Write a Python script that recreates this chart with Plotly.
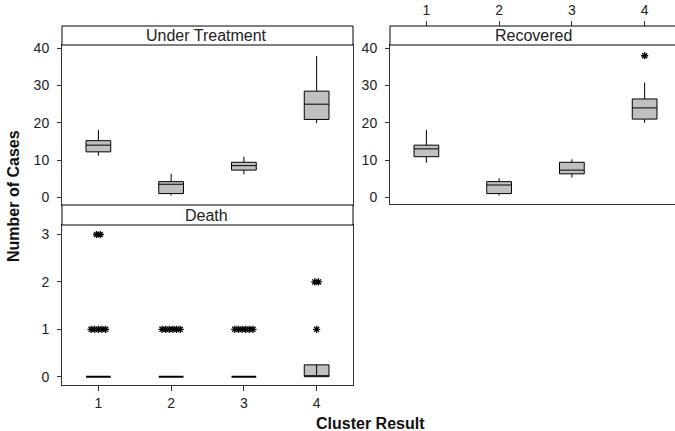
import plotly.graph_objects as go

W, H = 675, 431

clusters = [1, 2, 3, 4]
tick_labels = ["1", "2", "3", "4"]

# Under Treatment box statistics (per cluster)
ut_low = [11.2, 0.5, 6.2, 19.9]
ut_q1 = [12.2, 1.0, 7.3, 20.9]
ut_med = [14.0, 3.5, 8.5, 25.0]
ut_q3 = [15.2, 4.2, 9.4, 28.5]
ut_high = [18.1, 6.3, 10.9, 37.9]

# Recovered box statistics
rec_low = [9.3, 0.5, 5.3, 20.0]
rec_q1 = [10.9, 1.0, 6.3, 21.0]
rec_med = [13.0, 3.3, 7.3, 24.0]
rec_q3 = [14.0, 4.2, 9.4, 26.4]
rec_high = [18.1, 5.1, 10.2, 30.8]
rec_outliers = [[], [], [], [38]]

# Death box statistics
death_low = [0, 0, 0, 0]
death_q1 = [0, 0, 0, 0]
death_med = [0, 0, 0, 0]
death_q3 = [0, 0, 0, 0.25]
death_high = [0, 0, 0, 0.25]
death_outliers = [[1, 1, 1, 1, 1, 3, 3], [1, 1, 1, 1, 1, 1], [1, 1, 1, 1, 1, 1], [1, 2, 2]]

FONT = "Arial, Liberation Sans, sans-serif"
BOX_FILL = "#c0c0c0"
LINE = "#333333"


def fx(p):
    return p / W


def fy(p):
    return 1 - p / H


fig = go.Figure()


def add_panel(xa, ya, low, q1, med, q3, high, outliers):
    for i, c in enumerate(clusters):
        flat = q1[i] == q3[i]
        fig.add_trace(go.Box(
            x=[c], q1=[q1[i]], median=[med[i]], q3=[q3[i]],
            lowerfence=[low[i]], upperfence=[high[i]],
            width=0.34, fillcolor=BOX_FILL if not flat else "black",
            line=dict(color="black", width=2 if flat else 1),
            boxpoints=False, whiskerwidth=0, showlegend=False,
            xaxis=xa, yaxis=ya, hoverinfo="skip",
        ))
        # count duplicates and spread them sideways
        vals = outliers[i]
        groups = {}
        for v in vals:
            groups[v] = groups.get(v, 0) + 1
        xs, ys = [], []
        for v, n in groups.items():
            for k in range(n):
                xs.append(c + (k - (n - 1) / 2) * 0.05)
                ys.append(v)
        if xs:
            fig.add_trace(go.Scatter(
                x=xs, y=ys, mode="markers", showlegend=False,
                marker=dict(symbol="asterisk-open", size=6, color="black",
                            line=dict(color="black", width=1.3)),
                xaxis=xa, yaxis=ya, hoverinfo="skip",
            ))


add_panel("x", "y", ut_low, ut_q1, ut_med, ut_q3, ut_high, [[], [], [], []])
add_panel("x2", "y2", rec_low, rec_q1, rec_med, rec_q3, rec_high, rec_outliers)
add_panel("x3", "y3", death_low, death_q1, death_med, death_q3, death_high, death_outliers)

# vertical line inside the Death cluster-4 box
fig.add_trace(go.Scatter(
    x=[clusters[3], clusters[3]], y=[death_q1[3], death_q3[3]], mode="lines",
    line=dict(color="black", width=1), showlegend=False,
    xaxis="x3", yaxis="y3", hoverinfo="skip",
))

# invisible trace so the top tick axis of the Recovered panel is drawn
fig.add_trace(go.Scatter(
    x=clusters, y=rec_med, mode="markers", marker=dict(opacity=0),
    showlegend=False, xaxis="x4", yaxis="y2", hoverinfo="skip",
))

axis_common = dict(showline=True, linecolor=LINE, linewidth=1, showgrid=False,
                   zeroline=False, ticks="outside", tickcolor=LINE,
                   automargin=False,
                   tickfont=dict(family=FONT, size=14, color="#222"))

rec_range = [0.5, 0.5 + 285 / 72.75]

fig.update_layout(
    width=W, height=H, autosize=False,
    margin=dict(l=0, r=0, t=0, b=0, pad=0),
    paper_bgcolor="white", plot_bgcolor="white",
    showlegend=False,
    xaxis=dict(**axis_common, domain=[fx(62), fx(353)], range=[0.5, 4.5],
               tickvals=clusters, showticklabels=False, ticklen=0, mirror=True,
               anchor="y"),
    yaxis=dict(**axis_common, domain=[fy(205), fy(45)], range=[-2.07, 40.89],
               tickvals=[0, 10, 20, 30, 40], ticklen=4, mirror=True, anchor="x",
               ticklabelstandoff=5),
    xaxis2=dict(**axis_common, domain=[fx(390), 1], range=rec_range,
                tickvals=clusters, showticklabels=False, ticklen=0,
                mirror=True, anchor="y2"),
    yaxis2=dict(**axis_common, domain=[fy(204), fy(45)], range=[-1.8, 40.89],
                tickvals=[0, 10, 20, 30, 40], ticklen=4, mirror=False, anchor="x2",
                ticklabelstandoff=5),
    xaxis3=dict(**axis_common, domain=[fx(62), fx(353)], range=[0.5, 4.5],
                tickvals=clusters, ticktext=tick_labels, ticklen=5, mirror=True,
                anchor="y3"),
    yaxis3=dict(**axis_common, domain=[fy(385), fy(225)], range=[-0.175, 3.2],
                tickvals=[0, 1, 2, 3], ticklen=4, mirror=True, anchor="x3",
                ticklabelstandoff=5),
    xaxis4=dict(showline=False, showgrid=False, zeroline=False, ticks="outside",
                tickcolor=LINE, ticklen=5, automargin=False,
                tickfont=dict(family=FONT, size=14, color="#222"),
                domain=[fx(390), 1], range=rec_range, overlaying="x2",
                anchor="free", position=fy(26), side="top",
                tickvals=clusters, ticktext=tick_labels),
)

strips = [("Under Treatment", 62, 353, 26, 45, 207),
          ("Recovered", 390, 700, 26, 45, 533),
          ("Death", 62, 353, 205, 225, 207)]
for label, x0, x1, y0, y1, cx in strips:
    fig.add_shape(type="rect", xref="paper", yref="paper",
                  x0=fx(x0), x1=fx(x1), y0=fy(y1), y1=fy(y0),
                  fillcolor="white", line=dict(color="black", width=1))
    fig.add_annotation(text=label, xref="paper", yref="paper",
                       x=fx(cx), y=fy((y0 + y1) / 2), showarrow=False,
                       xanchor="center", yanchor="middle",
                       font=dict(family=FONT, size=16, color="#222"))

fig.add_annotation(text="<b>Number of Cases</b>", xref="paper", yref="paper",
                   x=fx(13), y=fy(196), textangle=-90, showarrow=False,
                   xanchor="center", yanchor="middle",
                   font=dict(family=FONT, size=16, color="#111"))
fig.add_annotation(text="<b>Cluster Result</b>", xref="paper", yref="paper",
                   x=fx(370), y=fy(423), showarrow=False,
                   xanchor="center", yanchor="middle",
                   font=dict(family=FONT, size=16, color="#111"))

fig.write_html("out.html", config={"displayModeBar": False},
               post_script="document.body.style.margin='0';document.body.style.overflow='hidden';")
